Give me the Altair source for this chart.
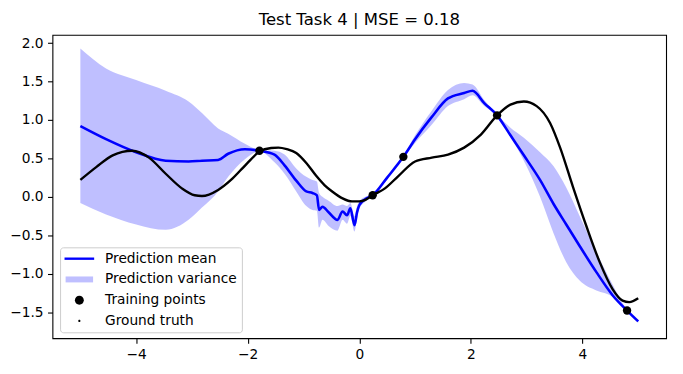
import altair as alt
import pandas as pd

# ---- data ----
band_x = [-5.0, -4.54, -4.0, -3.47, -3.06, -2.82, -2.53, -2.35, -2.05, -1.79, -1.52, -1.34,
          -1.13, -0.95, -0.84, -0.76, -0.72, -0.66, -0.55, -0.39, -0.30, -0.22, -0.16, -0.085,
          -0.04, 0.0, 0.11, 0.24, 0.5, 0.79, 1.0, 1.29, 1.59, 1.88, 2.03, 2.24, 2.47, 2.71,
          2.95, 3.24, 3.48, 3.71, 3.95, 4.25, 4.54, 4.80, 5.0]
band_upper = [1.93, 1.67, 1.52, 1.38, 1.24, 1.09, 0.89, 0.82, 0.69, 0.61, 0.60, 0.55,
              0.37, 0.26, 0.22, 0.20, 0.05, 0.00, -0.05, -0.12, -0.10, -0.12, -0.08, -0.25,
              -0.12, -0.06, 0.0, 0.03, 0.27, 0.53, 0.80, 1.11, 1.39, 1.48, 1.46, 1.26, 1.07, 0.90,
              0.77, 0.58, 0.40, 0.12, -0.25, -0.72, -1.14, -1.47, -1.60]
band_lower = [-0.08, -0.23, -0.36, -0.43, -0.30, -0.14, 0.07, 0.26, 0.49, 0.59, 0.45, 0.30,
              0.07, -0.12, -0.17, -0.18, -0.40, -0.30, -0.38, -0.44, -0.30, -0.35, -0.25, -0.45,
              -0.28, -0.16, -0.06, 0.01, 0.23, 0.51, 0.70, 0.93, 1.18, 1.27, 1.32, 1.18, 1.05, 0.78,
              0.47, 0.0, -0.47, -0.85, -1.09, -1.22, -1.30, -1.49, -1.64]
mean_y = [0.92, 0.75, 0.58, 0.47, 0.46, 0.47, 0.48, 0.56, 0.62, 0.60, 0.55, 0.41,
          0.21, 0.07, 0.05, 0.02, -0.17, -0.13, -0.20, -0.30, -0.19, -0.24, -0.15, -0.37,
          -0.20, -0.11, -0.03, 0.02, 0.25, 0.52, 0.75, 1.03, 1.28, 1.35, 1.38, 1.22, 1.06, 0.80,
          0.54, 0.22, -0.09, -0.36, -0.64, -0.98, -1.28, -1.48, -1.62]

truth_x = [-5.0, -4.71, -4.42, -4.07, -3.77, -3.47, -3.18, -2.95, -2.82, -2.53, -2.30, -2.11,
           -1.95, -1.79, -1.58, -1.45, -1.30, -1.13, -0.95, -0.78, -0.62, -0.48, -0.30, -0.13,
           0.0, 0.11, 0.24, 0.46, 0.7, 1.0, 1.3, 1.59, 1.88, 2.18, 2.47, 2.71, 2.95, 3.18, 3.42,
           3.60, 3.83, 4.07, 4.31, 4.54, 4.72, 4.84, 5.0]
truth_y = [0.22, 0.39, 0.54, 0.60, 0.51, 0.30, 0.11, 0.02, 0.01, 0.09, 0.22, 0.36,
           0.48, 0.59, 0.635, 0.64, 0.62, 0.57, 0.44, 0.28, 0.15, 0.066, -0.02, -0.06,
           -0.06, -0.04, 0.02, 0.11, 0.27, 0.46, 0.51, 0.55, 0.64, 0.81, 1.06, 1.20, 1.24, 1.18, 0.96,
           0.64, 0.13, -0.38, -0.85, -1.20, -1.35, -1.37, -1.32]

train_x = [-1.79, 0.24, 0.79, 2.47, 4.80]
train_y = [0.60, 0.02, 0.52, 1.06, -1.48]

x_ticks = [-4, -2, 0, 2, 4]
y_ticks = [-1.5, -1.0, -0.5, 0.0, 0.5, 1.0, 1.5, 2.0]

legend_labels = ["Prediction mean", "Prediction variance", "Training points", "Ground truth"]
legend_colors = ["#0000ff", "#bfbfff", "#000000", "#000000"]
# symbol paths in units of 7 px (legend symbolSize 196)
legend_shapes = [
    "M-2.143,-0.171H2.143V0.171H-2.143Z",
    "M-1.986,-0.43H1.986V0.43H-1.986Z",
    "M-0.643,0A0.643,0.643,0,1,0,0.643,0A0.643,0.643,0,1,0,-0.643,0Z",
    "M-0.157,0A0.157,0.157,0,1,0,0.157,0A0.157,0.157,0,1,0,-0.157,0Z",
]

title_text = "Test Task 4 | MSE = 0.18"
FONT = "DejaVu Sans"

# ---- tables ----
band_df = pd.DataFrame({"x": band_x, "lo": band_lower, "hi": band_upper, "m": mean_y})
truth_df = pd.DataFrame({"x": truth_x, "y": truth_y})
train_df = pd.DataFrame({"x": train_x, "y": train_y})
legend_df = pd.DataFrame({"series": legend_labels, "x": [None] * 4, "y": [None] * 4})

xscale = alt.Scale(domain=[-5.5, 5.5], nice=False, zero=False)
yscale = alt.Scale(domain=[-1.84, 2.107], nice=False, zero=False)
xaxis = alt.Axis(values=x_ticks, title=None,
                 labelExpr="replace(format(datum.value, 'd'), '-', '\u2212')")
yaxis = alt.Axis(values=y_ticks, title=None,
                 labelExpr="replace(format(datum.value, '.1f'), '-', '\u2212')")

X = alt.X("x:Q", scale=xscale, axis=xaxis)

band = alt.Chart(band_df).mark_area(color="#0000ff", opacity=0.25, interpolate="monotone").encode(
    x=X,
    y=alt.Y("lo:Q", scale=yscale, axis=yaxis),
    y2="hi:Q",
)
mean = alt.Chart(band_df).mark_line(color="#0000ff", strokeWidth=2.6, interpolate="monotone").encode(
    x=X, y=alt.Y("m:Q", scale=yscale, axis=yaxis)
)
truth = alt.Chart(truth_df).mark_line(color="black", strokeWidth=2.4, interpolate="monotone").encode(
    x=X, y=alt.Y("y:Q", scale=yscale, axis=yaxis)
)
train = alt.Chart(train_df).mark_point(filled=True, color="black", opacity=1, size=72, shape="circle").encode(
    x=X, y=alt.Y("y:Q", scale=yscale, axis=yaxis)
)
legend_layer = alt.Chart(legend_df).mark_point(filled=True, opacity=1).encode(
    x=X,
    y=alt.Y("y:Q", scale=yscale, axis=yaxis),
    color=alt.Color("series:N", scale=alt.Scale(domain=legend_labels, range=legend_colors),
                    legend=alt.Legend(title=None)),
    shape=alt.Shape("series:N", scale=alt.Scale(domain=legend_labels, range=legend_shapes),
                    legend=alt.Legend(title=None)),
)

chart = alt.layer(band, mean, truth, train, legend_layer).properties(
    width=621,
    height=307,
    autosize=alt.AutoSizeParams(type="none"),
    padding={"left": 45, "top": 25, "right": 9, "bottom": 34},
    title=alt.TitleParams(title_text, font=FONT, fontSize=16.7, fontWeight="normal",
                          color="black", anchor="middle", baseline="alphabetic", offset=8, dy=15),
).configure_view(
    stroke="black", strokeWidth=1.1
).configure_axis(
    domain=False, grid=False, tickColor="black", tickSize=5, tickWidth=1.1,
    labelFont=FONT, labelFontSize=13.9, labelColor="black", labelPadding=4.5,
).configure_legend(
    orient="none", legendX=7.7, legendY=215, padding=4.5, symbolSize=196, symbolStrokeWidth=0,
    symbolOffset=8, labelFont=FONT, labelFontSize=13.9, labelColor="black", labelOffset=19,
    labelLimit=300, rowPadding=7, titlePadding=0, fillColor="rgba(255,255,255,0.8)",
    strokeColor="#cccccc", cornerRadius=3,
)

chart.save("out.html", embed_options={"renderer": "svg", "actions": False})
